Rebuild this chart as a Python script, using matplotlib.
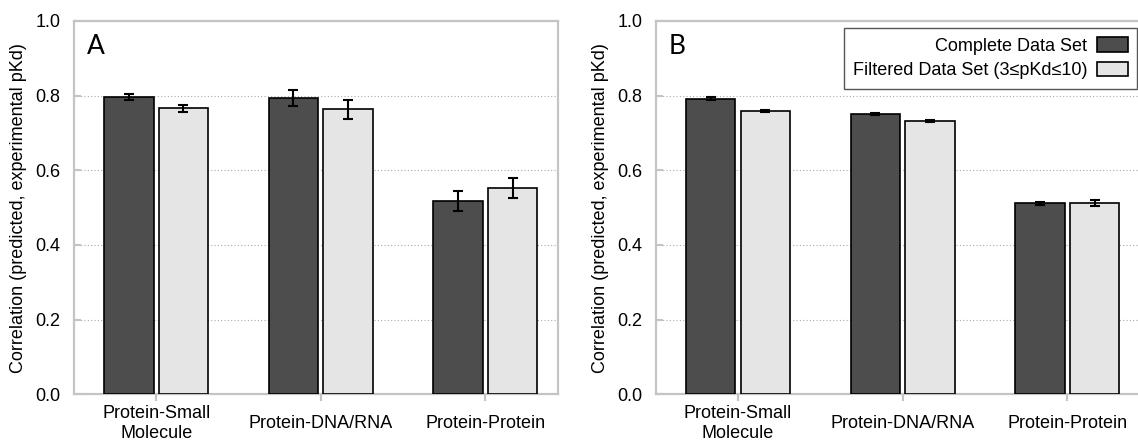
import matplotlib
matplotlib.use("Agg")
import numpy as np
import matplotlib.pyplot as plt
import matplotlib.ticker as ticker

plt.rcParams['font.family'] = ['Liberation Sans', 'DejaVu Sans']
plt.rcParams['font.size'] = 13

# data
categories = ['Protein-Small\nMolecule', 'Protein-DNA/RNA', 'Protein-Protein']
series_names = ['Complete Data Set', 'Filtered Data Set (3\u2264pKd\u226410)']

a_complete = [0.797, 0.793, 0.517]
a_complete_err = [0.008, 0.022, 0.027]
a_filtered = [0.766, 0.763, 0.552]
a_filtered_err = [0.010, 0.025, 0.027]

b_complete = [0.792, 0.750, 0.511]
b_complete_err = [0.003, 0.003, 0.004]
b_filtered = [0.759, 0.731, 0.511]
b_filtered_err = [0.002, 0.003, 0.008]

dark = '#4d4d4d'
light = '#e5e5e5'
spine_grey = '#c4c4c4'


def panel(ax, complete, complete_err, filtered, filtered_err, letter):
    x = np.arange(len(categories))
    w = 0.30
    off = 0.166
    err_kw = dict(ecolor='black', elinewidth=1.5, capsize=3.5, capthick=1.5)

    ax.bar(x - off, complete, w, yerr=complete_err, color=dark,
           edgecolor='black', linewidth=1.2, label=series_names[0],
           error_kw=err_kw, zorder=3)
    ax.bar(x + off, filtered, w, yerr=filtered_err, color=light,
           edgecolor='black', linewidth=1.2, label=series_names[1],
           error_kw=err_kw, zorder=3)

    ax.set_xlim(-0.5, 2.44)
    ax.set_ylim(0, 1.0)
    ax.set_xticks(x)
    ax.set_xticklabels(categories, va='center')
    ax.yaxis.set_major_locator(ticker.MultipleLocator(0.2))
    ax.yaxis.set_major_formatter(ticker.FormatStrFormatter('%.1f'))

    ax.yaxis.grid(True, linestyle=(0, (1, 2)), color='#aaaaaa', linewidth=0.8)
    ax.set_axisbelow(True)

    for s in ax.spines.values():
        s.set_color(spine_grey)
        s.set_linewidth(1.6)

    ax.tick_params(axis='x', direction='out', length=5, width=1.5,
                   color=spine_grey, pad=16)
    ax.tick_params(axis='y', direction='in', length=5, width=1.5,
                   color=spine_grey, pad=9.5)

    ax.set_ylabel('Correlation (predicted, experimental pKd)')
    ax.yaxis.set_label_coords(-0.097, 0.5)

    ax.text(0.027, 0.965, letter, transform=ax.transAxes, ha='left', va='top',
            fontsize=19, family=['Lato', 'DejaVu Sans'])


fig = plt.figure(figsize=(11.38, 4.44), dpi=100)

# panel B runs a little past the right edge of the figure, as in the original
ax1 = fig.add_axes([0.0649, 0.112, 0.4253, 0.841])
ax2 = fig.add_axes([0.5762, 0.112, 0.4253, 0.841])

panel(ax1, a_complete, a_complete_err, a_filtered, a_filtered_err, 'A')
panel(ax2, b_complete, b_complete_err, b_filtered, b_filtered_err, 'B')

leg = ax2.legend(loc='upper right', bbox_to_anchor=(0.995, 0.98),
                 borderaxespad=0, markerfirst=False, fancybox=False,
                 framealpha=1, edgecolor='#555555', fontsize=13,
                 handlelength=1.72, handleheight=0.85, handletextpad=0.55,
                 labelspacing=0.4, borderpad=0.5)
leg.get_frame().set_linewidth(1.0)

fig.savefig('out.png', dpi=100)
